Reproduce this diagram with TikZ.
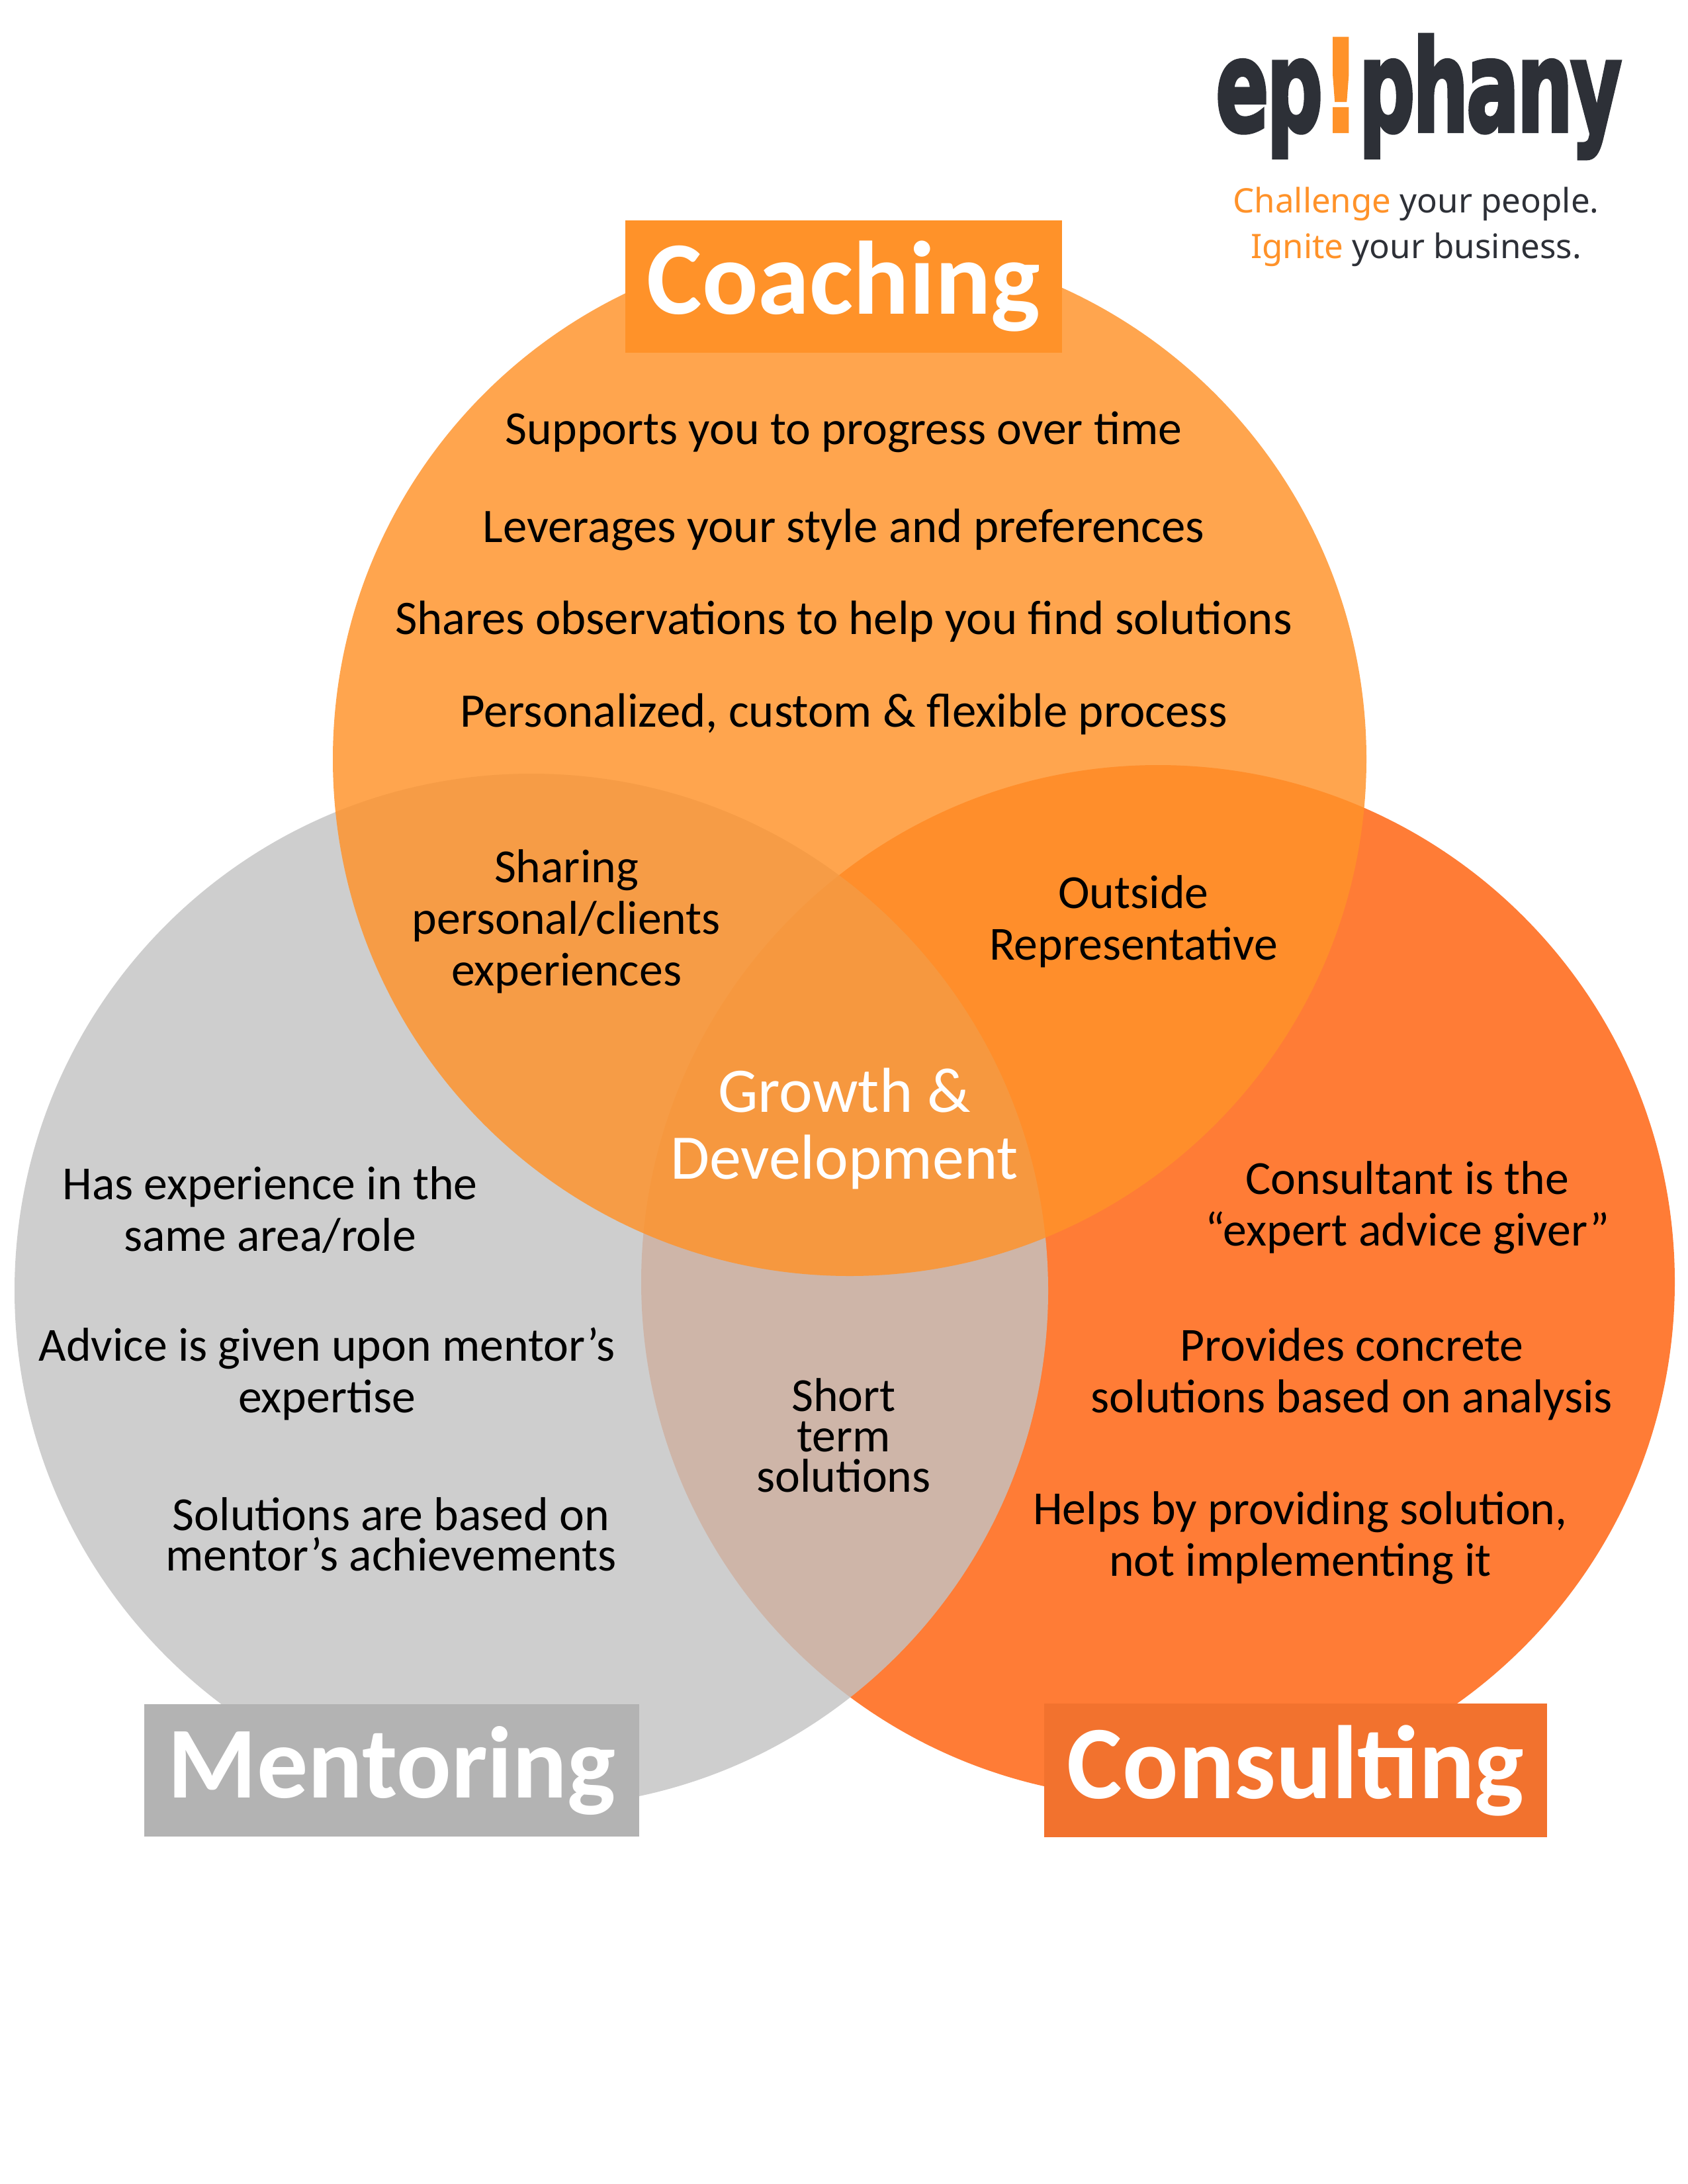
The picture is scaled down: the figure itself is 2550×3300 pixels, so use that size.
\documentclass[tikz,border=0pt]{standalone}
\usepackage{fontspec}
\setmainfont{Carlito}
\newfontfamily\logofont[FakeBold=3,LetterSpace=-3]{DejaVu Sans Bold}
\newfontfamily\tagfont{Noto Sans}
\usepackage{tikz}
\usetikzlibrary{positioning}
\definecolor{coachorange}{HTML}{FF9229}
\definecolor{mentorgrey}{HTML}{C3C3C3}
\definecolor{consultorange}{HTML}{FF7C36}
\definecolor{mentorbox}{HTML}{B3B3B3}
\definecolor{consultbox}{HTML}{F2722E}
\definecolor{logodark}{HTML}{2D3037}

\begin{document}
\begin{tikzpicture}
  [x=0.01cm,y=-0.01cm,
title/.style={rectangle,inner sep=0pt,text=white,font=\fontsize{44.8}{44.8}\selectfont\bfseries,minimum height=1.98cm},
body/.style={align=center,inner sep=0pt,font=\fontsize{20.4}{22.2}\selectfont},
wide/.style={align=center,inner sep=0pt,font=\fontsize{20.7}{22.2}\selectfont},
tight/.style={align=center,inner sep=0pt,font=\fontsize{20.4}{17.4}\selectfont},
center/.style={align=center,inner sep=0pt,text=white,font=\fontsize{27.3}{28.7}\selectfont}]

  \useasboundingbox (0,0) rectangle (2550,3300);
  \fill[white] (0,0) rectangle (2550,3300);

  \fill[consultorange] (1750,1937) circle [radius=781];
  \fill[mentorgrey,fill opacity=0.81] (803,1950) circle [radius=781];
  \fill[coachorange,fill opacity=0.824] (1284,1147) circle [radius=781];

  \node[title,fill=coachorange,minimum width=6.6cm,minimum height=1.99cm] (coaching) at (1275,433) {Coaching};
  \node[title,fill=mentorbox,minimum width=7.47cm,minimum height=2cm,font=\fontsize{43.8}{43.8}\selectfont\bfseries] (mentoring) at (592,2675) {Mentoring};
  \node[title,fill=consultbox,minimum width=7.6cm,minimum height=2.02cm] (consulting) at (1958,2675) {Consulting};

  \node[body] (progress) at (1275,653) {Supports you to progress over time};
  \node[wide] (style) at (1275,800) {Leverages your style and preferences};
  \node[wide] (shares) at (1275,939) {Shares observations to help you find solutions};
  \node[wide] (custom) at (1275,1079) {Personalized, custom \& flexible process};

  \node[body] (sharing) at (856,1392) {Sharing\\personal/clients\\experiences};
  \node[body] (outside) at (1713,1392) {Outside\\Representative};
  \node[center] (growth) at (1276,1705) {Growth \&\\Development};
  \node[tight] (short) at (1275,2169) {Short\\term\\solutions};

  \node[body] (area) at (408,1828) {Has experience in the\\same area/role};
  \node[body] (advice) at (494,2076) {Advice is given upon mentor’s\\expertise};
  \node[tight] (achieve) at (591,2318) {Solutions are based on\\mentor’s achievements};

  \node[body] (giver) at (2127,1825) {Consultant is the\\“expert advice giver”};
  \node[body] (concrete) at (2043,2076) {Provides concrete\\solutions based on analysis};
  \node[body] (helps) at (1965,2324) {Helps by providing solution,\\not implementing it};

  \node[inner sep=0pt,text=logodark,xscale=0.62,transform shape,font=\logofont\fontsize{54.5}{54.5}\selectfont] (logo) at (2144,146) {ep{\color{coachorange}!}phany};
  \node[inner sep=0pt,align=center,text=logodark,font=\tagfont\fontsize{14.5}{19.5}\selectfont] (tagline) at (2140,343)
                            {{\color{coachorange}Challenge} your people.\\{\color{coachorange}Ignite} your business.};

\end{tikzpicture}
\end{document}
